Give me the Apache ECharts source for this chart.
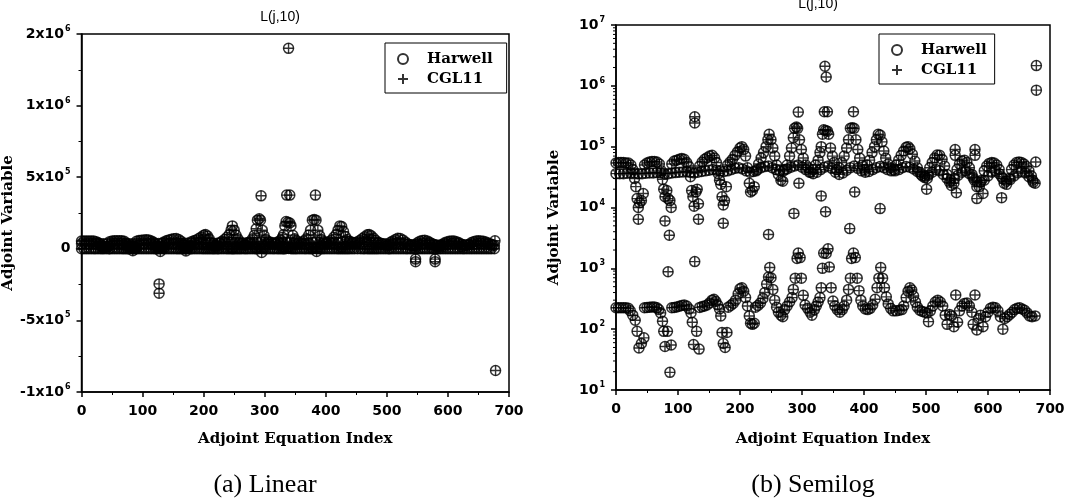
<!DOCTYPE html>
<html lang="en">
<head>
	<meta charset="utf-8" />
	<title>L(j,10)</title>
	<script src="https://cdn.jsdelivr.net/npm/echarts@6/dist/echarts.min.js"></script>
	<style>
		html, body { margin: 0; padding: 0; background: #fff; }
		#chart { width: 1084px; height: 500px; }
	</style>
</head>
<body>
	<div id="chart"></div>
	<script>
		// lower band (values ~ 1e2), [index, value]
		var lowerBand = [
			[0,225],[4,226],[8,226],[12,225],[16,225],[20,220],[23,200],[27,170],[31,140],[34,92],[37,49],[41,58],[45,72],
			[46,225],[50,228],[54,230],[58,232],[62,232],[66,225],[69,210],[72,185],[75,135],[77,92],[79,52],[83,92],[89,55],
			[90,225],[94,228],[98,232],[102,238],[106,245],[110,250],[114,240],[118,215],[121,185],[123,130],[125,56],[130,92],[134,47],
			[135,228],[139,235],[143,240],[147,250],[151,270],[155,300],[158,310],[161,285],[164,250],[167,215],[169,165],[171,88],[173,58],[176,50],[179,88],
			[181,230],[185,245],[189,265],[193,300],[197,380],[200,460],[203,480],[206,420],[209,330],[212,240],[215,165],[217,125],[220,120],[223,125],
			[225,230],[229,245],[233,270],[237,320],[240,400],[243,550],[246,720],[248,1030],[250,700],[253,450],[256,300],[259,230],[262,190],[266,170],[269,160],
			[272,210],[276,240],[280,280],[284,330],[286,450],[289,690],[292,1450],[294,1780],[297,1500],[299,690],[302,360],[305,250],[309,220],[313,190],[316,170],
			[320,210],[323,240],[326,280],[329,330],[331,480],[333,1000],[335,1780],[339,1750],[342,2100],[344,1050],[347,480],[350,290],[353,240],[357,210],[361,190],
			[365,210],[368,240],[372,300],[375,450],[378,690],[380,1450],[383,1780],[386,1500],[389,690],[392,430],[395,300],[398,240],[402,215],[406,210],
			[410,220],[414,250],[418,310],[421,480],[424,690],[427,1030],[430,690],[433,480],[436,340],[439,260],[443,220],[447,200],[452,200],[457,205],[461,210],
			[464,240],[468,330],[471,420],[474,480],[477,440],[480,350],[483,280],[486,230],[490,205],[494,195],[498,190],[502,185],[504,133],
			[507,200],[511,240],[515,280],[519,300],[523,280],[527,240],[531,170],[534,120],[538,175],[541,165],[545,110],[548,365],[551,130],
			[554,200],[558,240],[562,265],[566,270],[570,240],[574,190],[576,120],[579,365],[582,97],[585,150],[588,170],[592,110],
			[596,160],[600,190],[604,220],[608,230],[612,225],[616,200],[620,160],[624,100],[627,150],[631,160],[635,175],
			[639,190],[643,210],[647,220],[651,225],[655,215],[659,205],[663,185],[667,165],[671,160],[676,165]
		];

		// upper band, oscillating trace (~5e4)
		var upperTrace = [
			[0,54000],[4,55000],[8,55000],[12,55000],[16,54000],[20,54000],[24,50000],[27,42000],[30,30000],[32,22000],[34,14000],[36,10000],[38,12000],[41,13000],[44,17000],
			[46,50000],[50,54000],[54,56000],[58,57000],[62,57000],[66,56000],[70,52000],[73,40000],[75,29000],[77,20000],[79,15000],[82,19000],[84,-14000],[87,13000],[89,10000],
			[90,52000],[94,58000],[98,60000],[102,62000],[106,64000],[110,62000],[114,55000],[117,48000],[120,32000],[122,19000],[124,15000],[126,10500],[129,-18000],[131,20000],[133,11500],
			[135,48000],[139,56000],[143,62000],[147,66000],[151,70000],[155,72000],[159,65000],[162,55000],[165,36000],[167,28000],[169,24000],[171,-15000],[173,11000],[175,13000],[178,22000],
			[180,50000],[184,56000],[188,62000],[192,72000],[196,82000],[200,95000],[203,100000],[206,90000],[209,70000],[212,45000],[215,25000],[217,18000],[220,19000],[223,22000],
			[226,40000],[230,52000],[234,65000],[238,80000],[242,100000],[245,130000],[247,160000],[250,130000],[253,95000],[256,70000],[259,50000],[262,35000],[266,28000],[269,27000],
			[272,42000],[276,50000],[280,70000],[283,95000],[286,140000],[288,200000],[291,210000],[293,200000],[296,130000],[299,90000],[302,65000],[306,50000],[310,45000],[314,38000],
			[318,42000],[322,50000],[326,60000],[329,80000],[331,100000],[333,160000],[335,190000],[338,185000],[341,180000],[343,160000],[346,95000],[349,70000],[352,55000],[356,42000],
			[360,45000],[364,55000],[368,70000],[372,95000],[375,130000],[378,200000],[381,205000],[384,200000],[387,130000],[390,90000],[393,65000],[397,50000],[401,42000],
			[405,50000],[409,60000],[413,80000],[417,100000],[420,130000],[423,160000],[426,155000],[429,120000],[432,85000],[435,65000],[439,52000],[443,45000],[448,42000],
			[452,50000],[456,60000],[460,72000],[464,85000],[468,98000],[471,100000],[474,92000],[478,75000],[482,58000],[486,45000],[490,38000],[494,33000],[498,31000],[502,30000],
			[506,45000],[510,55000],[514,65000],[518,73000],[522,72000],[526,62000],[530,48000],[534,35000],[538,26000],[541,23000],[545,25000],
			[550,42000],[554,52000],[558,58000],[562,60000],[566,55000],[570,45000],[574,35000],[578,28000],[582,22000],[586,22000],[590,28000],
			[594,40000],[598,48000],[602,53000],[606,55000],[610,54000],[614,50000],[618,42000],[622,32000],[626,25000],[630,24000],[634,30000],
			[638,42000],[642,50000],[646,55000],[650,56000],[654,55000],[658,52000],[662,47000],[666,40000],[670,33000],[673,26000],[677,56000]
		];

		// upper band, lower trace (~3.7e4)
		var baseTrace = [
			[0,36000],[6,36000],[12,36000],[18,36500],[24,37000],[30,37000],[36,36000],[42,36000],[48,36500],[54,37000],[60,37000],[66,37500],
			[72,37000],[78,36000],[84,36000],[90,37000],[96,37500],[102,38000],[108,38500],[114,39000],[120,38000],[126,37000],[132,38000],[138,39000],
			[144,40000],[150,41000],[156,42000],[162,41000],[168,40000],[174,39000],[180,40000],[186,42000],[192,44000],[198,45000],[204,43000],[210,40000],
			[216,38000],[222,39000],[228,42000],[234,45000],[240,47000],[246,48000],[252,45000],[258,42000],[264,40000],[270,40000],[276,43000],[282,46000],
			[288,48000],[294,50000],[300,46000],[306,42000],[312,38000],[318,36000],[324,38000],[330,42000],[336,46000],[342,48000],[348,44000],[354,38000],
			[360,35000],[366,37000],[372,41000],[378,45000],[384,48000],[390,44000],[396,40000],[402,38000],[408,39000],[414,42000],[420,45000],[426,47000],
			[432,45000],[438,42000],[444,40000],[450,40000],[456,42000],[462,45000],[468,47000],[474,46000],[480,43000],[486,39000],[492,35000],[498,33000],
			[504,34000],[510,38000],[516,42000],[522,40000],[528,35000],[534,30000],[540,28000],[546,30000],[552,34000],[558,38000],[564,40000],[570,36000],
			[576,31000],[582,27000],[588,26000],[594,28000],[600,33000],[606,38000],[612,40000],[618,36000],[624,30000],[630,27000],[636,29000],[642,33000],
			[648,37000],[654,39000],[660,37000],[666,32000],[672,28000],[676,25000]
		];

		// isolated points (signed; the semilog panel shows magnitudes)
		var spikes = [
			[36,6400],[79,6000],[86,3500],[133,6400],[173,5500],[246,3600],[287,8000],[295,-25000],[331,15500],[338,8500],
			[377,4500],[385,-18000],[426,9600],[501,20000],[549,17500],[582,14000],[592,17000],[622,14500],
			[127,-310000],[127,-245000],[294,370000],[336,375000],[341,375000],[383,375000],[337,2100000],[339,1400000],
			[547,-90000],[547,-72000],[579,-90000],[579,-72000],[678,2150000],[678,-850000],
			[84,880],[87,19.5],[127,1290]
		];

		var xTicks = [0, 100, 200, 300, 400, 500, 600, 700];

		var allPts = lowerBand.concat(upperTrace, baseTrace, spikes);
		var linPts = allPts.map(function (p) { return [p[0], p[1]]; });
		var logPts = allPts.map(function (p) { return [p[0], Math.abs(p[1])]; });

		// minor ticks of the log axis (2..9 in each decade)
		var logMinor = [];
		for (var e = 1; e < 7; e++) {
			for (var k = 2; k < 10; k++) logMinor.push([0, k * Math.pow(10, e)]);
		}

		var plusPath = 'path://M4.3,0H5.7V4.3H10V5.7H5.7V10H4.3V5.7H0V4.3H4.3Z';
		var plusBold = 'path://M4,0H6V4H10V6H6V10H4V6H0V4H4Z';
		var SANS = 'DejaVu Sans, Arial, sans-serif';
		var SERIF = 'DejaVu Serif, Times New Roman, serif';
		var CAP = 'Liberation Serif, Times New Roman, serif';

		var rich = {
			b: { fontFamily: SANS, fontWeight: 'bold', fontSize: 14, color: '#000' },
			s: { fontFamily: SANS, fontWeight: 'bold', fontSize: 8, color: '#000', padding: [0, 0, 10, 1] }
		};

		function sciLabel(v) {
			if (v === 0) return '{b|0}';
			var s = v < 0 ? '-' : '';
			var a = Math.abs(v);
			var ex = Math.floor(Math.log10(a) + 1e-9);
			var m = Math.round(a / Math.pow(10, ex));
			return '{b|' + s + m + 'x10}{s|' + ex + '}';
		}
		function powLabel(v) {
			return '{b|10}{s|' + Math.round(Math.log10(v)) + '}';
		}

		function xAxisOpt(gi, gap) {
			return {
				gridIndex: gi, type: 'value', min: xTicks[0], max: xTicks[xTicks.length - 1], interval: 100,
				name: 'Adjoint Equation Index', nameLocation: 'middle', nameGap: gap,
				nameTextStyle: { fontFamily: SERIF, fontWeight: 'bold', fontSize: 15, color: '#000' },
				axisLine: { onZero: false, lineStyle: { color: '#000', width: 1.5 } },
				axisTick: { length: 5, lineStyle: { color: '#000', width: 1.5 } },
				minorTick: { show: true, splitNumber: 2, length: 3, lineStyle: { color: '#000', width: 1 } },
				axisLabel: { margin: 12, fontFamily: SANS, fontWeight: 'bold', fontSize: 14, color: '#000' },
				splitLine: { show: false }
			};
		}

		function yName(gap) {
			return {
				name: 'Adjoint Variable', nameLocation: 'middle', nameGap: gap,
				nameTextStyle: { fontFamily: SERIF, fontWeight: 'bold', fontSize: 15, color: '#000', padding: [0, 20, 0, 0] }
			};
		}

		var dom = document.getElementById('chart');
		var myChart = echarts.init(dom, null, { renderer: 'canvas' });

		function scatterPair(gi, data) {
			return [{
				name: 'Harwell', type: 'scatter', xAxisIndex: gi, yAxisIndex: gi, data: data,
				symbol: 'circle', symbolSize: 10, silent: true,
				itemStyle: { color: 'rgba(0,0,0,0)', borderColor: '#000', borderWidth: 1.5 }
			}, {
				name: 'CGL11', type: 'scatter', xAxisIndex: gi, yAxisIndex: gi, data: data,
				symbol: plusPath, symbolSize: 10, silent: true,
				itemStyle: { color: '#000' }
			}];
		}

		function legendOpt(left, top, padR) {
			return {
				left: left, top: top, orient: 'vertical', selectedMode: false,
				borderColor: '#000', borderWidth: 1, padding: [8, padR, 6, 12], itemGap: 4,
				itemWidth: 10, itemHeight: 10,
				textStyle: { fontFamily: SERIF, fontWeight: 'bold', fontSize: 15, color: '#000', lineHeight: 16, padding: [0, 0, 0, 14] },
				data: [
					{ name: 'Harwell', icon: 'circle', itemStyle: { color: 'rgba(0,0,0,0)', borderColor: '#000', borderWidth: 2 } },
					{ name: 'CGL11', icon: plusBold, itemStyle: { color: '#000', borderWidth: 0 } }
				]
			};
		}

		var yLin = {
			gridIndex: 0, type: 'value', min: -1000000, max: 1500000, interval: 500000,
			axisLine: { onZero: false, lineStyle: { color: '#000', width: 1.5 } },
			axisTick: { length: 5, lineStyle: { color: '#000', width: 1.5 } },
			minorTick: { show: true, splitNumber: 2, length: 3, lineStyle: { color: '#000', width: 1 } },
			axisLabel: { margin: 11, formatter: sciLabel, rich: rich },
			splitLine: { show: false }
		};
		var yLog = {
			gridIndex: 1, type: 'log', logBase: 10, min: 10, max: 10000000, interval: 1,
			axisLine: { onZero: false, lineStyle: { color: '#000', width: 1.5 } },
			axisTick: { length: 5, lineStyle: { color: '#000', width: 1.5 } },
			axisLabel: { margin: 11, formatter: powLabel, rich: rich },
			splitLine: { show: false }
		};
		Object.assign(yLin, yName(59));
		Object.assign(yLog, yName(54));

		option = {
			animation: false,
			backgroundColor: '#fff',
			grid: [
				{ left: 80, top: 34, width: 429, height: 358, show: true, borderColor: '#000', borderWidth: 1.5 },
				{ left: 616, top: 25, width: 434, height: 365, show: true, borderColor: '#000', borderWidth: 1.5 }
			],
			legend: [legendOpt(385, 43, 14), legendOpt(879, 34, 8)],
			xAxis: [xAxisOpt(0, 40), xAxisOpt(1, 42)],
			yAxis: [yLin, yLog],
			graphic: [
				{ type: 'text', style: { text: 'L(j,10)', x: 280, y: 17, textAlign: 'center', textVerticalAlign: 'middle', font: '14px Liberation Sans, Arial, sans-serif', fill: '#000' } },
				{ type: 'text', style: { text: 'L(j,10)', x: 818, y: 4, textAlign: 'center', textVerticalAlign: 'middle', font: '14px Liberation Sans, Arial, sans-serif', fill: '#000' } },
				{ type: 'text', style: { text: '(a) Linear', x: 265, y: 485, textAlign: 'center', textVerticalAlign: 'middle', font: '26px ' + CAP, fill: '#000' } },
				{ type: 'text', style: { text: '(b) Semilog', x: 813, y: 485, textAlign: 'center', textVerticalAlign: 'middle', font: '26px ' + CAP, fill: '#000' } }
			],
			series: scatterPair(0, linPts).concat(scatterPair(1, logPts), [{
				type: 'custom', xAxisIndex: 1, yAxisIndex: 1, data: logMinor, silent: true, clip: false,
				renderItem: function (params, api) {
					var p = api.coord([api.value(0), api.value(1)]);
					return { type: 'line', shape: { x1: p[0] - 3, y1: p[1], x2: p[0], y2: p[1] }, style: { stroke: '#000', lineWidth: 1 } };
				}
			}])
		};
		myChart.setOption(option);
	</script>
</body>
</html>
